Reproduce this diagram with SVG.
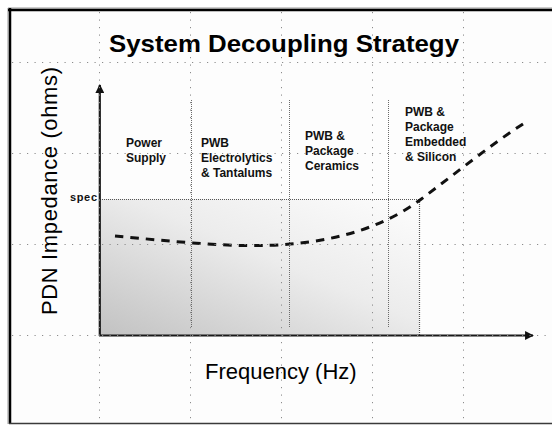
<svg xmlns="http://www.w3.org/2000/svg" width="552" height="426" viewBox="0 0 552 426">
  <defs>
    <linearGradient id="shade" x1="0" y1="1" x2="1" y2="0">
      <stop offset="0" stop-color="#c2c2c2"/>
      <stop offset="0.55" stop-color="#ececec"/>
      <stop offset="1" stop-color="#fdfdfd"/>
    </linearGradient>
    <marker id="arrow" viewBox="0 0 10 10" refX="9" refY="5" markerWidth="4" markerHeight="4" orient="auto" markerUnits="strokeWidth">
      <path d="M0,0 L10,5 L0,10 Z" fill="#111"/>
    </marker>
    <style>
      .grid { stroke: #8c8c8c; stroke-width: 1; stroke-dasharray: 1.2 6.3; fill: none; }
      .sep { stroke: #6a6a6a; stroke-width: 1; stroke-dasharray: 1 1; fill: none; }
      .box { stroke: #555; stroke-width: 1.2; stroke-dasharray: 1 1; fill: none; }
      .axis { stroke: #1a1a1a; stroke-width: 2.2; fill: none; }
      .label { font-family: "Liberation Sans", Arial, sans-serif; font-size: 12px; font-weight: bold; fill: #111; }
      .big { font-family: "Liberation Sans", Arial, sans-serif; font-size: 22px; fill: #000; }
    </style>
  </defs>

  <rect x="0" y="0" width="552" height="426" fill="#ffffff"/>
  <rect x="9" y="9" width="543" height="414" fill="#fdfdfd"/>

  <g id="shaded-region">
    <rect x="100" y="199" width="319" height="136" fill="url(#shade)"/>
    <path class="box" d="M100,199.5 H419.5 V335"/>
  </g>

  <g id="separators">
    <line class="sep" x1="191.5" y1="100" x2="191.5" y2="328"/>
    <line class="sep" x1="289.5" y1="100" x2="289.5" y2="328"/>
    <line class="sep" x1="388.5" y1="100" x2="388.5" y2="328"/>
  </g>

  <g id="connectors">
    <line class="axis" x1="99.8" y1="336" x2="99.8" y2="85" marker-end="url(#arrow)"/>
    <line class="axis" x1="99" y1="335.5" x2="533" y2="335.5" marker-end="url(#arrow)"/>
    <path id="impedance-curve" d="M115,236 C170,241 240,249 290,244 C340,240 385,226 420,200 C455,174 490,145 526,122" fill="none" stroke="#111" stroke-width="3" stroke-dasharray="8.5 7"/>
  </g>

  <g id="title">
    <text x="109" y="52" font-family="Liberation Sans, Arial, sans-serif" font-size="24" font-weight="bold" fill="#000" textLength="350" lengthAdjust="spacingAndGlyphs">System Decoupling Strategy</text>
  </g>

  <g id="label-power-supply">
    <text class="label" x="126" y="146.5">Power</text>
    <text class="label" x="126" y="161.5">Supply</text>
  </g>
  <g id="label-electrolytics">
    <text class="label" x="201" y="146.5">PWB</text>
    <text class="label" x="201" y="161.5">Electrolytics</text>
    <text class="label" x="201" y="176.5">&amp; Tantalums</text>
  </g>
  <g id="label-ceramics">
    <text class="label" x="305" y="139.5">PWB &amp;</text>
    <text class="label" x="305" y="154.5">Package</text>
    <text class="label" x="305" y="169.5">Ceramics</text>
  </g>
  <g id="label-embedded">
    <text class="label" x="405" y="115.5">PWB &amp;</text>
    <text class="label" x="405" y="130.5">Package</text>
    <text class="label" x="405" y="145.5">Embedded</text>
    <text class="label" x="405" y="160.5">&amp; Silicon</text>
  </g>
  <g id="label-spec">
    <text x="70" y="200.5" font-family="Liberation Sans, Arial, sans-serif" font-size="11" font-weight="bold" fill="#111" textLength="27">spec</text>
  </g>

  <g id="y-axis-label">
    <text class="big" transform="translate(57,191) rotate(-90)" x="0" y="0" text-anchor="middle" textLength="248">PDN Impedance (ohms)</text>
  </g>
  <g id="x-axis-label">
    <text class="big" x="205" y="379">Frequency (Hz)</text>
  </g>

  <g id="grid">
    <line class="grid" x1="99.5" y1="12" x2="99.5" y2="422"/>
    <line class="grid" x1="190.5" y1="12" x2="190.5" y2="422"/>
    <line class="grid" x1="281.5" y1="12" x2="281.5" y2="422"/>
    <line class="grid" x1="372.5" y1="12" x2="372.5" y2="422"/>
    <line class="grid" x1="463.5" y1="12" x2="463.5" y2="422"/>
    <line class="grid" x1="12" y1="62.5" x2="552" y2="62.5"/>
    <line class="grid" x1="12" y1="153.5" x2="552" y2="153.5"/>
    <line class="grid" x1="12" y1="244.5" x2="552" y2="244.5"/>
    <line class="grid" x1="12" y1="335.5" x2="552" y2="335.5"/>
  </g>

  <g id="frame">
    <line x1="8" y1="8" x2="552" y2="8" stroke="#999" stroke-width="1"/>
    <line x1="8" y1="8" x2="8" y2="424" stroke="#999" stroke-width="1"/>
    <line x1="8" y1="10" x2="552" y2="10" stroke="#000" stroke-width="2.5"/>
    <line x1="10" y1="8" x2="10" y2="424" stroke="#000" stroke-width="2.5"/>
    <line x1="9" y1="423.5" x2="552" y2="423.5" stroke="#3a3a3a" stroke-width="1.5"/>
  </g>
</svg>
